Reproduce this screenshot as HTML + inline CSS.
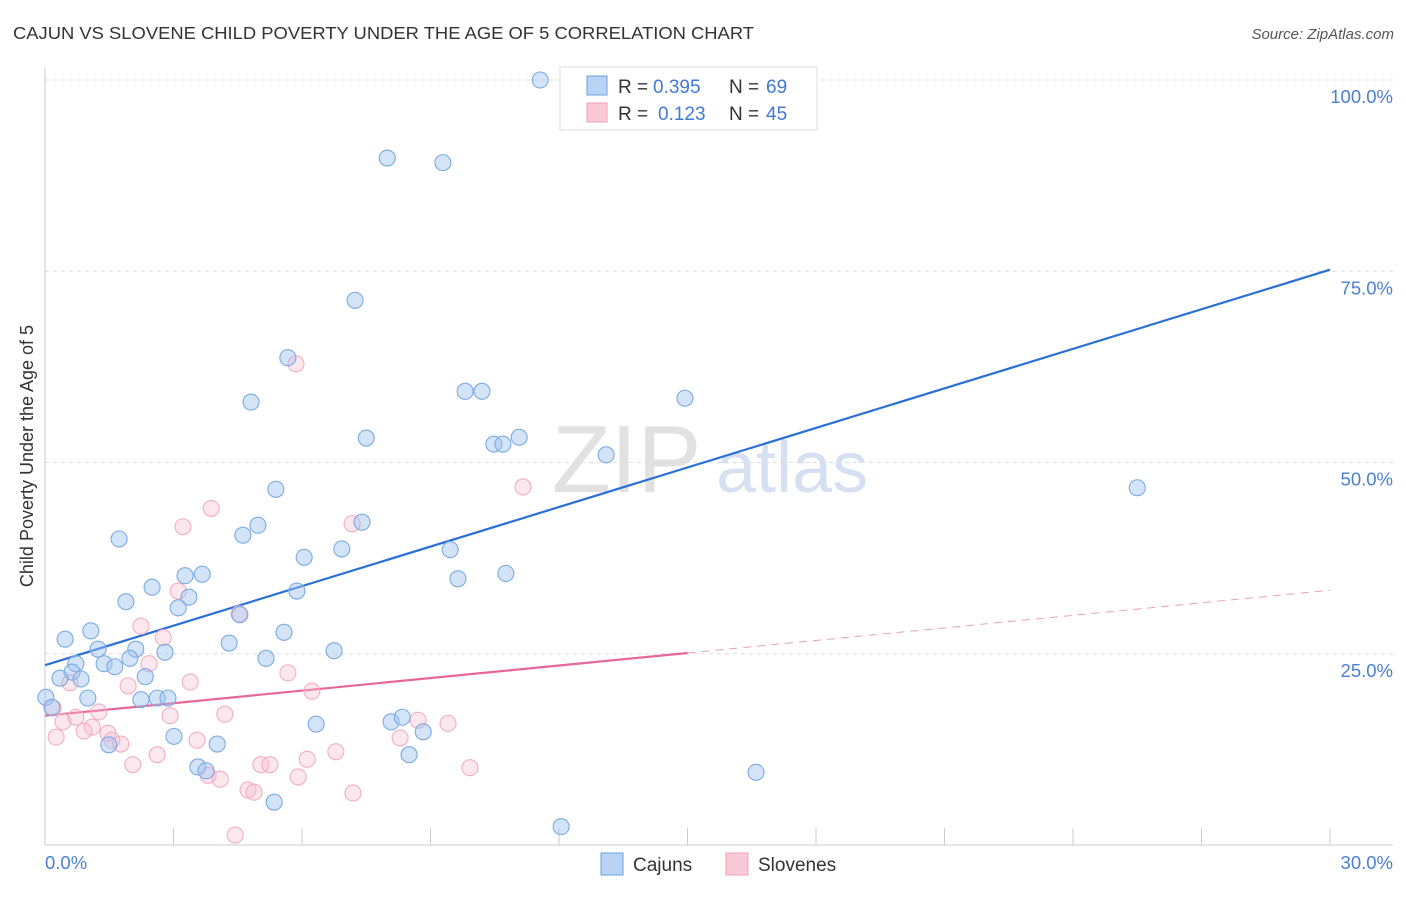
<!DOCTYPE html>
<html><head><meta charset="utf-8"><style>
body{margin:0;background:#fff;font-family:"Liberation Sans",sans-serif;}
svg text{font-family:"Liberation Sans",sans-serif;}
</style></head><body>
<svg id="chart" width="1406" height="892" viewBox="0 0 1406 892" xmlns="http://www.w3.org/2000/svg">
<text x="13" y="39" font-size="17.5" fill="#333" textLength="741" lengthAdjust="spacingAndGlyphs">CAJUN VS SLOVENE CHILD POVERTY UNDER THE AGE OF 5 CORRELATION CHART</text>
<text x="1394" y="39" font-size="15" fill="#555" text-anchor="end" font-style="italic">Source: ZipAtlas.com</text>
<g>
<text x="552" y="492" font-size="96" fill="#d8d8d8" font-family="Liberation Serif, serif" opacity="0.75">ZIP</text>
<text x="716" y="492" font-size="72" fill="#c8d8ef" opacity="0.75">atlas</text>
</g>
<g id="grid"></g>
<g id="axes"></g>
<g id="lines"></g>
<g id="points"></g>
<text transform="translate(33,456) rotate(-90)" font-size="18" fill="#333" text-anchor="middle">Child Poverty Under the Age of 5</text>
<g>
<rect x="560" y="67" width="257" height="63" fill="#fff" stroke="#ddd"/>
<rect x="587" y="76" width="20" height="19" fill="#b8d3f5" stroke="#6aa0e0"/>
<rect x="587" y="103" width="20" height="19" fill="#f9c9d7" stroke="#f0a0b8"/>
<text x="618" y="93" font-size="19" fill="#333">R =</text><text x="653" y="93" font-size="19" fill="#3f7ad6">0.395</text>
<text x="729" y="93" font-size="19" fill="#333">N =</text><text x="766" y="93" font-size="19" fill="#3f7ad6">69</text>
<text x="618" y="120" font-size="19" fill="#333">R =</text><text x="658" y="120" font-size="19" fill="#3f7ad6">0.123</text>
<text x="729" y="120" font-size="19" fill="#333">N =</text><text x="766" y="120" font-size="19" fill="#3f7ad6">45</text>
</g>
<g>
<rect x="601" y="853" width="22" height="22" fill="#b8d3f5" stroke="#6aa0e0"/>
<text x="633" y="871" font-size="19" fill="#333">Cajuns</text></g>
<g>
<rect x="726" y="853" width="22" height="22" fill="#f9c9d7" stroke="#f0a0b8"/>
<text x="758" y="871" font-size="19" fill="#333">Slovenes</text></g>
</svg>
<script>
const cajunX=[11.56,7.99,9.29,7.24,5.67,4.81,9.81,10.20,7.50,10.48,10.69,11.07,13.10,14.94,25.50,5.39,1.73,4.97,4.62,7.40,6.05,6.93,9.46,9.64,10.76,3.27,3.67,2.50,1.89,3.36,3.11,5.88,4.55,5.58,4.30,1.07,0.47,1.24,2.12,2.80,1.98,1.38,1.63,0.72,5.16,6.75,0.63,0.35,0.84,2.34,0.02,1.00,2.24,2.62,2.87,0.16,6.33,8.08,8.34,8.83,3.01,4.02,1.49,3.57,3.76,8.50,16.60,5.35,12.05];
const cajunY=[100.0,89.8,89.2,71.2,63.7,57.9,59.3,59.3,53.2,52.4,52.4,53.3,51.0,58.4,46.7,46.5,40.0,41.8,40.5,42.2,37.6,38.7,38.6,34.8,35.5,35.2,35.4,33.7,31.8,32.4,31.0,33.2,30.1,27.8,26.4,28.0,26.9,25.6,25.6,25.2,24.4,23.7,23.3,23.7,24.4,25.4,22.6,21.8,21.7,22.0,19.3,19.2,19.0,19.2,19.2,18.0,15.8,16.1,16.7,14.8,14.2,13.2,13.1,10.2,9.7,11.8,9.5,5.6,2.4];
const sloveneX=[5.86,3.88,3.22,7.17,11.16,4.53,3.11,2.24,2.76,2.43,5.67,3.39,1.94,6.23,0.58,0.19,1.26,2.92,4.20,0.72,0.42,1.10,1.47,0.91,0.26,1.77,1.56,3.55,6.79,2.62,8.71,9.41,8.29,2.05,5.04,5.25,6.12,5.91,3.81,4.09,4.74,4.88,9.92,7.19,4.44];
const sloveneY=[62.9,44.0,41.6,42.0,46.8,30.2,33.2,28.6,27.1,23.7,22.5,21.3,20.8,20.1,21.2,17.9,17.4,16.9,17.1,16.7,16.1,15.4,14.6,14.9,14.1,13.2,13.7,13.7,12.2,11.8,16.3,15.9,14.0,10.5,10.5,10.5,11.2,8.9,9.1,8.6,7.2,6.9,10.1,6.8,1.3];
const cajunTrend=[23.5,75.2];
const sloveneTrend=[16.9,33.3];
const sloveneSolidEnd=15;
const yTicks=[25,50,75,100];
const yTickLabels=["25.0%","50.0%","75.0%","100.0%"];
const xTicks=[0,3,6,9,12,15,18,21,24,27,30];

const NS="http://www.w3.org/2000/svg";
const X0=45,X1=1330,Y0=845,Y100=80;
const sx=v=>X0+(X1-X0)*v/30;
const sy=v=>Y0-(Y0-Y100)*v/100;
function mk(tag,attrs,parent){const e=document.createElementNS(NS,tag);for(const k in attrs)e.setAttribute(k,attrs[k]);parent.appendChild(e);return e;}
const grid=document.getElementById('grid'),axes=document.getElementById('axes'),lines=document.getElementById('lines'),pts=document.getElementById('points');
yTicks.forEach((t,i)=>{
  const l=mk('line',{x1:X0,x2:1393,y1:sy(t),y2:sy(t),stroke:'#dcdcdc','stroke-dasharray':'4,4'},grid);
  
  
  const tx=mk('text',{x:1393,y:sy(t)+23,'font-size':18.5,fill:'#4a7fd4','text-anchor':'end'},axes);
  tx.textContent=yTickLabels[i];
  
  
});
mk('line',{x1:X0,x2:X0,y1:68,y2:Y0,stroke:'#ccc'},axes);
mk('line',{x1:X0,x2:1393,y1:Y0,y2:Y0,stroke:'#ccc'},axes);
xTicks.forEach(t=>{const l=mk('line',{x1:sx(t),x2:sx(t),y1:Y0,y2:Y0-17,stroke:'#ccc'},axes);
  
  });
let t0=mk('text',{x:45,y:869,'font-size':18.5,fill:'#4a7fd4'},axes);t0.textContent='0.0%';


let t1=mk('text',{x:1393,y:869,'font-size':18.5,fill:'#4a7fd4','text-anchor':'end'},axes);t1.textContent='30.0%';



function drawPts(xs,ys,fill,stroke,name){xs.forEach((x,i)=>{
  const c=mk('circle',{cx:sx(x),cy:sy(ys[i]),r:8,fill:fill,stroke:stroke,'stroke-width':1.1},pts);
  
  });}
drawPts(sloveneX,sloveneY,'rgba(248,187,207,0.35)','#f3adc3','slovene-point');
drawPts(cajunX,cajunY,'rgba(160,196,240,0.45)','#7aaae3','cajun-point');

const lerp=(a,x)=>a[0]+(a[1]-a[0])*x/30;
let bl=mk('line',{x1:sx(0),y1:sy(lerp(cajunTrend,0)),x2:sx(30),y2:sy(lerp(cajunTrend,30)),stroke:'#2a6fd8','stroke-width':2.2},lines);


let pl=mk('line',{x1:sx(0),y1:sy(lerp(sloveneTrend,0)),x2:sx(sloveneSolidEnd),y2:sy(lerp(sloveneTrend,sloveneSolidEnd)),stroke:'#e8679a','stroke-width':2.2},lines);


let pd=mk('line',{x1:sx(sloveneSolidEnd),y1:sy(lerp(sloveneTrend,sloveneSolidEnd)),x2:sx(30),y2:sy(lerp(sloveneTrend,30)),stroke:'#e8a0b8','stroke-width':1,'stroke-dasharray':'8,6'},lines);


</script>
</body></html>
